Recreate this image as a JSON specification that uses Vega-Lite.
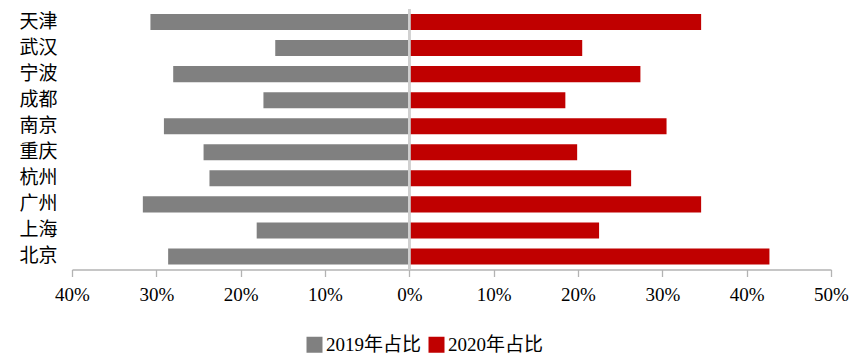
{
  "$schema": "https://vega.github.io/schema/vega-lite/v6.json",
  "autosize": {"type": "none"},
  "padding": {"left": 72, "top": 9, "right": 26, "bottom": 92.5},
  "width": 759,
  "height": 260.5,
  "background": "white",
  "config": {
    "view": {"stroke": null},
    "font": "Liberation Serif, Noto Sans CJK SC",
    "axis": {"labelFont": "Liberation Serif, Noto Sans CJK SC", "labelColor": "#000000", "grid": false, "title": null},
    "legend": {"labelFont": "Liberation Serif, Noto Sans CJK SC"}
  },
  "data": {
    "values": [
      {"city": "天津", "series": "2019年占比", "value": -0.307},
      {"city": "武汉", "series": "2019年占比", "value": -0.159},
      {"city": "宁波", "series": "2019年占比", "value": -0.280},
      {"city": "成都", "series": "2019年占比", "value": -0.173},
      {"city": "南京", "series": "2019年占比", "value": -0.291},
      {"city": "重庆", "series": "2019年占比", "value": -0.244},
      {"city": "杭州", "series": "2019年占比", "value": -0.237},
      {"city": "广州", "series": "2019年占比", "value": -0.316},
      {"city": "上海", "series": "2019年占比", "value": -0.181},
      {"city": "北京", "series": "2019年占比", "value": -0.286},
      {"city": "天津", "series": "2020年占比", "value": 0.346},
      {"city": "武汉", "series": "2020年占比", "value": 0.205},
      {"city": "宁波", "series": "2020年占比", "value": 0.274},
      {"city": "成都", "series": "2020年占比", "value": 0.185},
      {"city": "南京", "series": "2020年占比", "value": 0.305},
      {"city": "重庆", "series": "2020年占比", "value": 0.199},
      {"city": "杭州", "series": "2020年占比", "value": 0.263},
      {"city": "广州", "series": "2020年占比", "value": 0.346},
      {"city": "上海", "series": "2020年占比", "value": 0.225},
      {"city": "北京", "series": "2020年占比", "value": 0.427}
    ]
  },
  "layer": [
    {
      "mark": {"type": "bar"},
      "encoding": {
        "y": {
          "field": "city",
          "type": "nominal",
          "sort": ["天津", "武汉", "宁波", "成都", "南京", "重庆", "杭州", "广州", "上海", "北京"],
          "scale": {"paddingInner": 0.385, "paddingOuter": 0.1925},
          "axis": {"domain": false, "ticks": false, "labelFontSize": 19, "labelPadding": 15, "labelAlign": "right"}
        },
        "x": {
          "field": "value",
          "type": "quantitative",
          "scale": {"domain": [-0.4, 0.5], "nice": false, "zero": false},
          "axis": {
            "values": [-0.4, -0.3, -0.2, -0.1, 0, 0.1, 0.2, 0.3, 0.4, 0.5],
            "labelExpr": "format(abs(datum.value), '.0%')",
            "labelFontSize": 19,
            "labelPadding": 9,
            "labelFlush": false,
            "labelOverlap": false,
            "tickSize": 7,
            "domainColor": "#b3b3b3",
            "tickColor": "#b3b3b3",
            "domainWidth": 1.3,
            "tickWidth": 1.3
          }
        },
        "color": {
          "field": "series",
          "type": "nominal",
          "scale": {"domain": ["2019年占比", "2020年占比"], "range": ["#808080", "#c00000"]},
          "legend": {
            "title": null,
            "orient": "none",
            "direction": "horizontal",
            "legendX": 233,
            "legendY": 326,
            "symbolType": "square",
            "symbolSize": 256,
            "symbolStrokeWidth": 0,
            "labelFontSize": 19,
            "labelOffset": 2,
            "columnPadding": 5,
            "labelColor": "#000000"
          }
        }
      }
    },
    {
      "mark": {"type": "rule", "color": "#d0d0d0", "strokeWidth": 1.5},
      "encoding": {"x": {"datum": 0}}
    }
  ]
}
